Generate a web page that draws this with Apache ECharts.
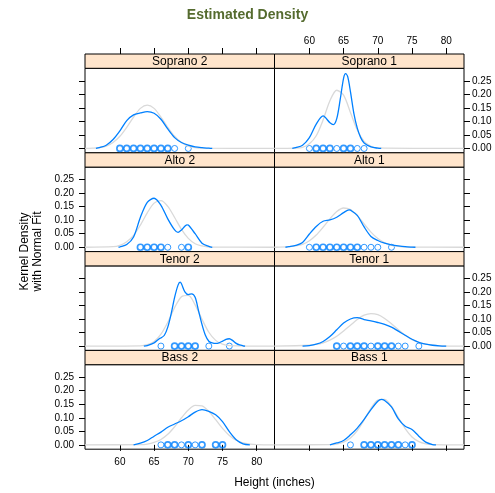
<!DOCTYPE html>
<html>
<head>
<meta charset="utf-8">
<script src="https://cdn.jsdelivr.net/npm/echarts@6/dist/echarts.min.js"></script>
<style>
html, body { margin: 0; padding: 0; background: #fff; }
#chart { width: 495px; height: 493px; }
</style>
</head>
<body>
<div id="chart"></div>
<script>
// panel order: row by row, left then right (lattice layout)
const panelNames = ['Soprano 2', 'Soprano 1', 'Alto 2', 'Alto 1', 'Tenor 2', 'Tenor 1', 'Bass 2', 'Bass 1'];

const xTicks = [60, 65, 70, 75, 80];
const yTicks = [0, 0.05, 0.1, 0.15, 0.2, 0.25];

// kernel density estimates [height, density]
const densSoprano2 = [[56.5,0],[57,0.003],[58,0.012],[59,0.033],[60,0.065],[61,0.103],[62,0.124],[63,0.131],[64,0.136],[65,0.13],[66,0.108],[67,0.072],[68,0.04],[69,0.022],[70,0.012],[71,0.006],[72,0.003],[73,0.001],[73.5,0]];
const densSoprano1 = [[57.5,0],[58,0.003],[59,0.012],[60,0.04],[61,0.09],[62,0.12],[63,0.095],[63.5,0.088],[64,0.11],[64.5,0.18],[65,0.26],[65.3,0.276],[65.6,0.265],[66,0.21],[66.5,0.13],[67,0.075],[67.5,0.04],[68,0.02],[69,0.006],[70,0.001],[70.5,0]];
const densAlto2 = [[59.8,0],[60,0.001],[61,0.01],[62,0.038],[63,0.111],[64,0.166],[65,0.181],[66,0.155],[67,0.105],[68,0.064],[68.5,0.055],[69,0.064],[69.8,0.083],[70,0.082],[71,0.05],[72,0.015],[73,0.003],[73.5,0]];
const densAlto1 = [[56.5,0],[57,0.002],[58,0.007],[59,0.018],[60,0.049],[61,0.077],[62,0.096],[63,0.101],[64,0.111],[65,0.128],[65.8,0.138],[66,0.137],[67,0.118],[68,0.075],[69,0.04],[70,0.025],[71,0.015],[72,0.009],[73,0.005],[74,0.002],[75,0.0005],[75.5,0]];
const densTenor2 = [[63.5,0],[64,0.002],[65,0.012],[65.8,0.028],[66,0.03],[66.5,0.04],[67,0.07],[67.5,0.12],[68,0.18],[68.5,0.225],[68.8,0.236],[69,0.23],[69.5,0.2],[70,0.19],[70.5,0.193],[71,0.18],[71.5,0.13],[72,0.08],[72.5,0.04],[73,0.018],[73.5,0.012],[74,0.01],[74.5,0.012],[75,0.018],[75.5,0.025],[76,0.027],[76.5,0.02],[77,0.01],[77.5,0.004],[78,0.001],[78.3,0]];
const densTenor1 = [[59,0],[60,0.002],[61,0.007],[62,0.017],[63,0.035],[64,0.06],[65,0.085],[66,0.1],[67,0.105],[68,0.098],[69,0.093],[70,0.087],[71,0.08],[72,0.07],[73,0.055],[74,0.04],[75,0.025],[76,0.014],[77,0.007],[78,0.003],[79,0.001],[80,0]];
const densBass2 = [[62,0],[63,0.006],[64,0.016],[65,0.032],[66,0.047],[67,0.065],[68,0.077],[69,0.089],[70,0.104],[71,0.121],[72,0.13],[73,0.124],[74,0.111],[75,0.086],[76,0.049],[77,0.019],[78,0.004],[79,0]];
const densBass1 = [[63,0],[64,0.007],[65,0.016],[66,0.037],[67,0.062],[68,0.094],[69,0.13],[70,0.161],[70.5,0.168],[71,0.164],[72,0.14],[73,0.096],[74,0.069],[75,0.057],[76,0.032],[77,0.01],[78,0.001],[78.5,0]];

// normal fits (light grey)
const normSoprano2 = [[54.9,0],[56,0.001],[57,0.003],[58,0.009],[59,0.022],[60,0.045],[61,0.078],[62,0.116],[63,0.148],[64,0.16],[65,0.148],[66,0.116],[67,0.078],[68,0.045],[69,0.022],[70,0.009],[71,0.003],[72,0.001],[82.6,0]];
const normSoprano1 = [[54.9,0],[58,0.001],[59,0.004],[60,0.017],[61,0.047],[62,0.105],[63,0.176],[64,0.215],[65,0.197],[66,0.133],[67,0.068],[68,0.026],[69,0.008],[70,0.002],[82.6,0]];
const normAlto2 = [[54.9,0],[59,0.002],[60,0.007],[61,0.02],[62,0.044],[63,0.082],[64,0.127],[65,0.163],[66,0.172],[67,0.151],[68,0.11],[69,0.066],[70,0.033],[71,0.013],[72,0.005],[73,0.001],[82.6,0]];
const normAlto1 = [[54.9,0],[57,0.002],[58,0.005],[59,0.011],[60,0.024],[61,0.045],[62,0.074],[63,0.105],[64,0.132],[65,0.145],[66,0.139],[67,0.117],[68,0.086],[69,0.056],[70,0.032],[71,0.016],[72,0.007],[73,0.003],[74,0.001],[82.6,0]];
const normTenor2 = [[54.9,0],[63,0.001],[64,0.005],[65,0.017],[66,0.044],[67,0.088],[68,0.142],[69,0.182],[70,0.187],[71,0.152],[72,0.099],[73,0.051],[74,0.021],[75,0.007],[76,0.002],[82.6,0]];
const normTenor1 = [[54.9,0],[60,0.003],[61,0.006],[62,0.012],[63,0.022],[64,0.036],[65,0.056],[66,0.077],[67,0.098],[68,0.114],[69,0.12],[70,0.116],[71,0.102],[72,0.082],[73,0.06],[74,0.04],[75,0.024],[76,0.014],[77,0.007],[78,0.003],[79,0.001],[82.6,0]];
const normBass2 = [[54.9,0],[63,0.001],[64,0.003],[65,0.009],[66,0.02],[67,0.039],[68,0.067],[69,0.1],[70,0.129],[71,0.146],[72,0.144],[73,0.124],[74,0.093],[75,0.061],[76,0.035],[77,0.017],[78,0.007],[79,0.003],[80,0.001],[82.6,0]];
const normBass1 = [[54.9,0],[63,0.001],[64,0.003],[65,0.01],[66,0.025],[67,0.053],[68,0.092],[69,0.135],[70,0.165],[71,0.168],[72,0.142],[73,0.101],[74,0.06],[75,0.029],[76,0.012],[77,0.004],[78,0.001],[82.6,0]];

// observed heights (inches) and whether the circle is overplotted
const ptsSoprano2 = [60, 61, 62, 63, 64, 65, 66, 67, 68, 70];
const dupSoprano2 = [1, 1, 1, 1, 1, 1, 1, 1, 0, 0];
const ptsSoprano1 = [60, 61, 62, 63, 64, 65, 66, 67, 68];
const dupSoprano1 = [0, 1, 1, 1, 0, 1, 1, 0, 0];
const ptsAlto2 = [63, 64, 65, 66, 67, 69, 70];
const dupAlto2 = [1, 1, 1, 1, 0, 0, 1];
const ptsAlto1 = [60, 61, 62, 63, 64, 65, 66, 67, 68, 69, 70, 72];
const dupAlto1 = [0, 1, 1, 1, 1, 1, 1, 1, 0, 0, 0, 0];
const ptsTenor2 = [66, 68, 69, 70, 71, 73, 76];
const dupTenor2 = [0, 1, 1, 1, 1, 0, 0];
const ptsTenor1 = [64, 65, 66, 67, 68, 69, 70, 71, 72, 73, 74, 76];
const dupTenor1 = [1, 0, 1, 1, 1, 0, 1, 1, 1, 0, 0, 0];
const ptsBass2 = [66, 67, 68, 69, 70, 71, 72, 74, 75];
const dupBass2 = [0, 1, 1, 0, 1, 0, 1, 1, 1];
const ptsBass1 = [66, 68, 69, 70, 71, 72, 73, 74, 75];
const dupBass1 = [0, 1, 1, 1, 1, 1, 1, 0, 1];

const densList = [densSoprano2, densSoprano1, densAlto2, densAlto1, densTenor2, densTenor1, densBass2, densBass1];
const normList = [normSoprano2, normSoprano1, normAlto2, normAlto1, normTenor2, normTenor1, normBass2, normBass1];
const ptsList = [ptsSoprano2, ptsSoprano1, ptsAlto2, ptsAlto1, ptsTenor2, ptsTenor1, ptsBass2, ptsBass1];
const dupList = [dupSoprano2, dupSoprano1, dupAlto2, dupAlto1, dupTenor2, dupTenor1, dupBass2, dupBass1];

const font = "'Liberation Sans', Arial, sans-serif";
const blue = '#0080ff';
const colLeft = [85, 274.5];
const panelW = 189.5;
const layoutTop = 54, rowPitch = 98.8, stripH = 14.3, panelH = 84.5;

const grids = [], xAxes = [], yAxes = [], series = [], graphics = [];

panelNames.forEach(function (name, i) {
    const row = Math.floor(i / 2), col = i % 2;
    const top = layoutTop + row * rowPitch;
    grids.push({
        left: colLeft[col], top: top + stripH, width: panelW, height: panelH,
        show: true, borderColor: '#000', borderWidth: 1, backgroundColor: 'transparent'
    });
    xAxes.push({
        type: 'value', gridIndex: i, min: 54.9, max: 82.6, position: 'bottom',
        axisLine: { show: false }, splitLine: { show: false },
        axisTick: { show: row === 3, length: 6, customValues: xTicks, lineStyle: { color: '#000' } },
        axisLabel: { show: row === 3 && col === 0, customValues: xTicks, margin: 8,
            color: '#000', fontSize: 10, fontFamily: font }
    });
    const labelled = (col === 0 && row % 2 === 1) || (col === 1 && row % 2 === 0);
    yAxes.push({
        type: 'value', gridIndex: i, min: -0.016, max: 0.296,
        position: col === 0 ? 'left' : 'right',
        axisLine: { show: false }, splitLine: { show: false },
        axisTick: { show: true, length: 6, customValues: yTicks, lineStyle: { color: '#000' } },
        axisLabel: { show: labelled, customValues: yTicks, margin: col === 0 ? 11 : 8,
            color: '#000', fontSize: 10, fontFamily: font,
            formatter: function (v) { return v.toFixed(2); } }
    });
    // strip
    graphics.push({
        type: 'rect', shape: { x: colLeft[col], y: top, width: panelW, height: stripH },
        style: { fill: '#ffe5cc', stroke: '#000', lineWidth: 1 }
    });
    graphics.push({
        type: 'text', x: colLeft[col] + panelW / 2, y: top + stripH / 2 + 0.5,
        style: { text: name, textAlign: 'center', textVerticalAlign: 'middle', verticalAlign: 'middle',
            font: '12px ' + font, fill: '#000' }
    });

    series.push({
        type: 'line', xAxisIndex: i, yAxisIndex: i, data: normList[i],
        smooth: 0.3, symbol: 'none', silent: true,
        lineStyle: { color: '#d9d9d9', width: 1.3 }
    });
    series.push({
        type: 'line', xAxisIndex: i, yAxisIndex: i, data: densList[i],
        smooth: 0.3, symbol: 'none', silent: true,
        lineStyle: { color: blue, width: 1.3 }
    });
    series.push({
        type: 'scatter', xAxisIndex: i, yAxisIndex: i, symbol: 'circle', symbolSize: 6, silent: true,
        data: ptsList[i].map(function (h, k) {
            return { value: [h, 0], itemStyle: { borderWidth: dupList[i][k] ? 1.7 : 1 } };
        }),
        itemStyle: { color: 'rgba(0,0,0,0)', borderColor: blue, borderWidth: 1 }
    });
});

// top axes of the first row, sitting above the strips
[0, 1].forEach(function (col) {
    xAxes.push({
        type: 'value', gridIndex: col, min: 54.9, max: 82.6, position: 'top', offset: stripH,
        axisLine: { show: false }, splitLine: { show: false },
        axisTick: { show: true, length: 6, customValues: xTicks, lineStyle: { color: '#000' } },
        axisLabel: { show: col === 1, customValues: xTicks, margin: 8,
            color: '#000', fontSize: 10, fontFamily: font }
    });
});

graphics.push({
    type: 'text', x: 31, y: 251.5, rotation: Math.PI / 2,
    style: { text: 'Kernel Density\nwith Normal Fit', textAlign: 'center', textVerticalAlign: 'middle',
        verticalAlign: 'middle', lineHeight: 13, font: '12px ' + font, fill: '#000' }
});
graphics.push({
    type: 'text', x: 274.5, y: 483,
    style: { text: 'Height (inches)', textAlign: 'center', textVerticalAlign: 'middle',
        verticalAlign: 'middle', font: '12px ' + font, fill: '#000' }
});

const chart = echarts.init(document.getElementById('chart'));
chart.setOption({
    animation: false,
    backgroundColor: '#fff',
    title: {
        text: 'Estimated Density', left: 'center', top: 3,
        textStyle: { color: '#556b2f', fontSize: 14, fontWeight: 'bold', fontFamily: font }
    },
    grid: grids,
    xAxis: xAxes,
    yAxis: yAxes,
    series: series,
    graphic: graphics
});
</script>
</body>
</html>
